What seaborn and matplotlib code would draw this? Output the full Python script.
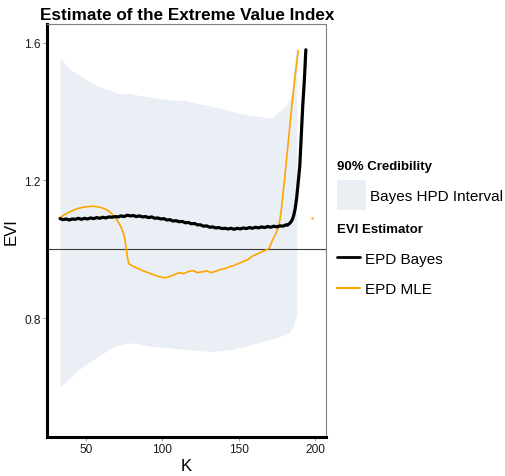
import matplotlib
matplotlib.use("Agg")
import matplotlib.pyplot as plt
import seaborn as sns
import pandas as pd
from matplotlib.patches import Patch
from matplotlib.lines import Line2D

# ---------------- data ----------------
k_bayes = [33, 35, 37, 39, 41, 43, 45, 47, 49, 51, 53, 55, 57, 59, 61, 63, 65, 67, 69, 71,
           73, 75, 77, 79, 81, 83, 85, 87, 89, 91, 93, 95, 97, 99, 101, 103, 105, 107, 109,
           111, 113, 115, 117, 119, 121, 123, 125, 127, 129, 131, 133, 135, 137, 139, 141,
           143, 145, 147, 149, 151, 153, 155, 157, 159, 161, 163, 165, 167, 169, 171, 173,
           175, 177, 179, 181, 182, 183, 184, 185, 186, 187, 188, 189, 190, 191, 192, 193, 194]
evi_bayes = [1.089, 1.086, 1.088, 1.085, 1.088, 1.087, 1.090, 1.087, 1.090, 1.088, 1.091,
             1.089, 1.092, 1.090, 1.093, 1.091, 1.094, 1.093, 1.095, 1.094, 1.097, 1.095,
             1.099, 1.097, 1.098, 1.095, 1.097, 1.094, 1.095, 1.092, 1.094, 1.090, 1.091,
             1.088, 1.089, 1.085, 1.086, 1.082, 1.083, 1.080, 1.081, 1.077, 1.078, 1.074,
             1.075, 1.071, 1.071, 1.067, 1.068, 1.064, 1.065, 1.062, 1.063, 1.060, 1.061,
             1.059, 1.061, 1.058, 1.061, 1.059, 1.062, 1.060, 1.063, 1.061, 1.064, 1.062,
             1.065, 1.063, 1.066, 1.064, 1.067, 1.065, 1.068, 1.067, 1.071, 1.070, 1.074,
             1.078, 1.085, 1.097, 1.118, 1.150, 1.195, 1.240, 1.330, 1.420, 1.490, 1.580]

k_mle = [33, 36, 39, 42, 45, 48, 51, 54, 57, 60, 63, 66, 69, 71, 73, 75, 76, 77, 78, 81,
         84, 87, 90, 93, 96, 99, 102, 105, 108, 111, 114, 117, 120, 123, 126, 129, 132, 135,
         138, 141, 144, 147, 150, 153, 156, 159, 162, 165, 168, 170, 172, 174, 176, 177, 178,
         179, 180, 181, 182, 183, 184, 185, 186, 187, 188, 189]
evi_mle = [1.092, 1.101, 1.108, 1.114, 1.119, 1.122, 1.124, 1.125, 1.124, 1.121, 1.116,
           1.107, 1.093, 1.080, 1.064, 1.040, 1.013, 0.980, 0.958, 0.950, 0.944, 0.938,
           0.933, 0.928, 0.923, 0.919, 0.917, 0.921, 0.926, 0.932, 0.929, 0.935, 0.938,
           0.932, 0.934, 0.937, 0.932, 0.936, 0.941, 0.944, 0.949, 0.953, 0.959, 0.964,
           0.970, 0.980, 0.986, 0.992, 0.998, 1.003, 1.025, 1.042, 1.064, 1.085, 1.118,
           1.160, 1.200, 1.245, 1.290, 1.335, 1.380, 1.425, 1.465, 1.505, 1.540, 1.578]

k_mle_extra = [198]
evi_mle_extra = [1.091]

k_band = [33, 36, 40, 46, 53, 59, 66, 72, 79, 85, 92, 98, 104, 109, 115, 121, 130, 136,
          141, 146, 152, 157, 163, 168, 170, 173, 176, 180, 183, 185, 186, 187, 188]
hpd_lower = [0.599, 0.612, 0.628, 0.652, 0.675, 0.691, 0.711, 0.722, 0.728, 0.724, 0.718,
             0.716, 0.714, 0.711, 0.709, 0.707, 0.703, 0.704, 0.706, 0.709, 0.715, 0.721,
             0.729, 0.735, 0.737, 0.741, 0.745, 0.751, 0.758, 0.769, 0.780, 0.795, 0.807]
hpd_upper = [1.556, 1.540, 1.520, 1.506, 1.486, 1.472, 1.462, 1.452, 1.454, 1.447, 1.443,
             1.438, 1.435, 1.433, 1.433, 1.426, 1.418, 1.412, 1.407, 1.400, 1.394, 1.390,
             1.387, 1.383, 1.380, 1.388, 1.399, 1.414, 1.433, 1.466, 1.520, 1.560, 1.593]

x_ticks = [50, 100, 150, 200]
y_ticks = [0.8, 1.2, 1.6]
y_tick_labels = ["0.8", "1.2", "1.6"]

title = "Estimate of the Extreme Value Index"
band_color = "#eaeff6"
mle_color = "#ffa500"

# ---------------- figure ----------------
sns.set_style("white")
plt.rcParams["font.family"] = ["Liberation Sans", "DejaVu Sans"]
plt.rcParams["text.color"] = "black"
plt.rcParams["axes.labelcolor"] = "black"

fig = plt.figure(figsize=(5.05, 4.77), dpi=100)
ax = fig.add_axes([47 / 505, 1 - 438 / 477, (326 - 47) / 505, (438 - 25) / 477])

df_b = pd.DataFrame({"K": k_bayes, "EVI": evi_bayes})
df_m = pd.DataFrame({"K": k_mle, "EVI": evi_mle})
df_x = pd.DataFrame({"K": k_mle_extra, "EVI": evi_mle_extra})

ax.fill_between(k_band, hpd_lower, hpd_upper, color=band_color, lw=0, zorder=1)
ax.axhline(1.0, color="#3a3a3a", lw=0.8, zorder=2)
sns.lineplot(data=df_b, x="K", y="EVI", color="black", lw=2.3, ax=ax, zorder=4)
sns.lineplot(data=df_m, x="K", y="EVI", color=mle_color, lw=1.2, ax=ax, zorder=3)
sns.scatterplot(data=df_x, x="K", y="EVI", color=mle_color, s=3, lw=0, ax=ax, zorder=3)

ax.set_xlim(24.45, 207.2)
ax.set_ylim(0.454, 1.655)
ax.set_xticks(x_ticks)
ax.set_xticklabels([str(v) for v in x_ticks])
ax.set_yticks(y_ticks)
ax.set_yticklabels(y_tick_labels)
ax.tick_params(axis="both", which="major", length=3, width=0.6, color="#888888",
               labelsize=8.6, labelcolor="#1a1a1a", pad=1.5, direction="out")
ax.tick_params(left=True, bottom=True)

for side in ["left", "bottom"]:
    ax.spines[side].set_color("black")
    ax.spines[side].set_linewidth(2.2)
for side in ["top", "right"]:
    ax.spines[side].set_color("#7f7f7f")
    ax.spines[side].set_linewidth(0.8)
    ax.spines[side].set_visible(True)

ax.set_xlabel("K", fontsize=12, labelpad=2, color="black")
ax.set_ylabel("EVI", fontsize=12, labelpad=4, color="black")

fig.text(40 / 505, 1 - 15 / 477, title, fontsize=12.3, fontweight="bold",
         ha="left", va="center", color="black")

# legends
leg1 = ax.legend(handles=[Patch(facecolor=band_color, edgecolor="none")],
                 labels=["Bayes HPD Interval"], title="90% Credibility",
                 loc="upper left", bbox_to_anchor=(334 / 505, 1 - 158 / 477),
                 bbox_transform=fig.transFigure, frameon=False, fontsize=11,
                 handlelength=1.9, handleheight=2.7, handletextpad=0.25,
                 borderaxespad=0, borderpad=0.2, alignment="left",
                 title_fontproperties={"weight": "bold", "size": 9.5})
ax.add_artist(leg1)
leg2 = ax.legend(handles=[Line2D([], [], color="black", lw=2.0),
                          Line2D([], [], color=mle_color, lw=1.5)],
                 labels=["EPD Bayes", "EPD MLE"], title="EVI Estimator",
                 loc="upper left", bbox_to_anchor=(334 / 505, 1 - 221 / 477),
                 bbox_transform=fig.transFigure, frameon=False, fontsize=11,
                 handlelength=1.5, handletextpad=0.35, labelspacing=1.08,
                 borderaxespad=0, borderpad=0.2, alignment="left",
                 title_fontproperties={"weight": "bold", "size": 9.5})
for leg in (leg1, leg2):
    for t in leg.get_texts():
        t.set_color("black")
    leg.get_title().set_color("black")

fig.savefig("out.png", dpi=100)
